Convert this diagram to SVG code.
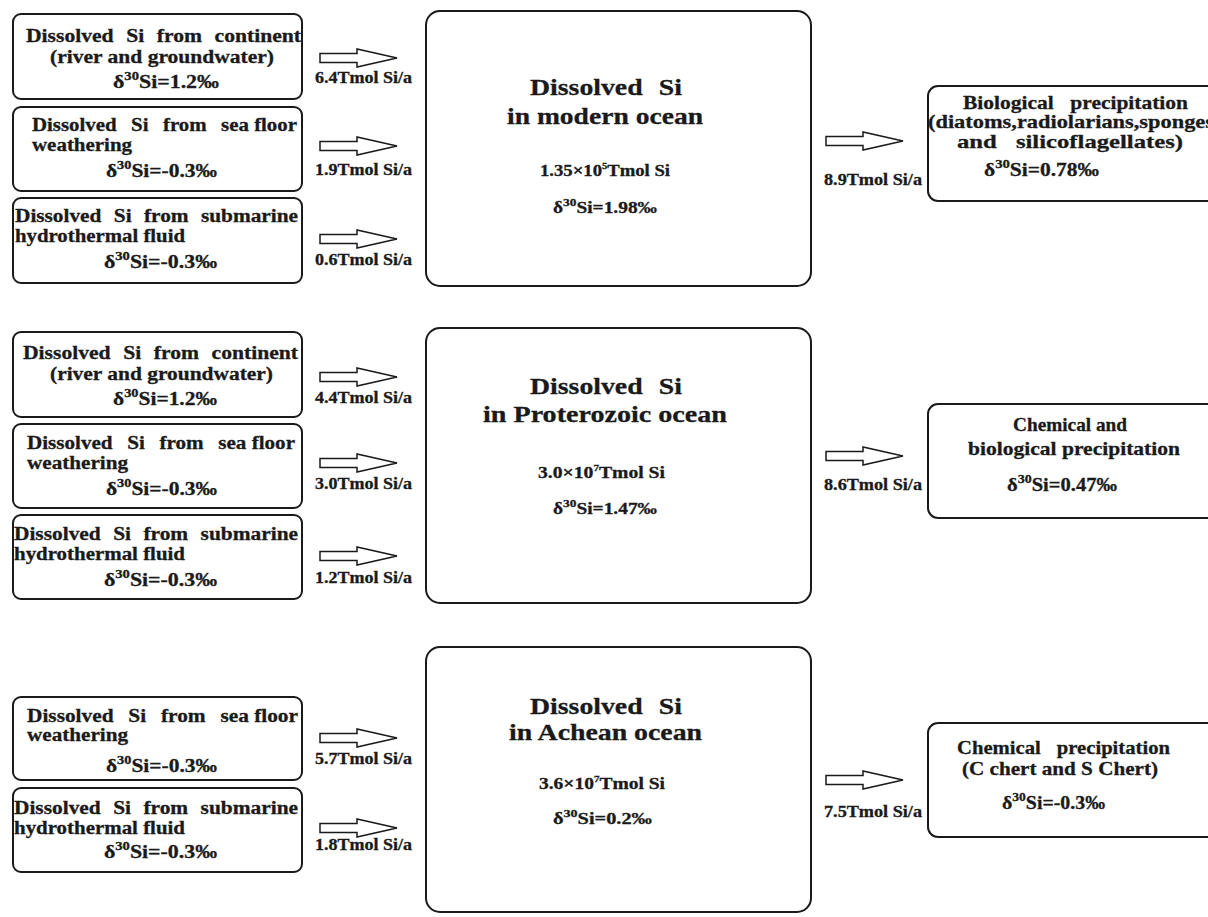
<svg xmlns="http://www.w3.org/2000/svg" xmlns:xlink="http://www.w3.org/1999/xlink" width="1208" height="917" viewBox="0 0 1208 917">
<style>
.box{fill:#fff;stroke:#1a1a1a;stroke-width:2}
.t{font-family:"Liberation Serif","Times New Roman",Times,serif;font-weight:bold;fill:#1a1a1a;stroke:#1a1a1a;stroke-width:0.3px;font-size:18px}
.c{font-size:24px}
.n{font-size:16px}
.l{font-size:16px}
.r{font-size:19px}
.arr{fill:#fff;stroke:#1a1a1a;stroke-width:1.5}
.j{word-spacing:6px}
</style>
<defs>
<path id="arrow" d="M0,-4.5 H37 V-9 L77,0 L37,9 V4.5 H0 Z"/>
</defs>
<rect width="1208" height="917" fill="#fff"/>

<!-- TOP SECTION -->
<g id="top-continent">
<rect class="box" x="13" y="14" width="289" height="85" rx="8"/>
<text class="t j" x="26" y="42" textLength="275" lengthAdjust="spacingAndGlyphs">Dissolved Si from continent</text>
<text class="t" x="50" y="63" textLength="224" lengthAdjust="spacingAndGlyphs">(river and groundwater)</text>
<text class="t" x="113" y="88" textLength="106" lengthAdjust="spacingAndGlyphs">δ<tspan font-size="12" dy="-8">30</tspan><tspan dy="8">Si=1.2‰</tspan></text>
</g>
<g id="top-seafloor">
<rect class="box" x="13" y="107" width="289" height="84" rx="8"/>
<text class="t" x="32" y="131" textLength="265" lengthAdjust="spacingAndGlyphs" style="word-spacing:8px">Dissolved Si from <tspan style="word-spacing:0">sea floor</tspan></text>
<text class="t" x="32" y="151" textLength="100" lengthAdjust="spacingAndGlyphs">weathering</text>
<text class="t" x="106" y="177" textLength="111" lengthAdjust="spacingAndGlyphs">δ<tspan font-size="12" dy="-8">30</tspan><tspan dy="8">Si=-0.3‰</tspan></text>
</g>
<g id="top-hydrothermal">
<rect class="box" x="13" y="198" width="289" height="85" rx="8"/>
<text class="t j" x="15" y="222" textLength="283" lengthAdjust="spacingAndGlyphs">Dissolved Si from submarine</text>
<text class="t" x="15" y="242" textLength="170" lengthAdjust="spacingAndGlyphs">hydrothermal fluid</text>
<text class="t" x="104" y="268" textLength="113" lengthAdjust="spacingAndGlyphs">δ<tspan font-size="12" dy="-8">30</tspan><tspan dy="8">Si=-0.3‰</tspan></text>
</g>
<g id="modern-ocean">
<rect class="box" x="426" y="11" width="385" height="275" rx="14"/>
<text class="t c" x="530" y="95" textLength="152" lengthAdjust="spacingAndGlyphs" style="word-spacing:8px">Dissolved Si</text>
<text class="t c" x="507" y="124" textLength="196" lengthAdjust="spacingAndGlyphs">in modern ocean</text>
<text class="t n" x="540" y="176" textLength="130" lengthAdjust="spacingAndGlyphs">1.35×10<tspan font-size="9" dy="-7">5</tspan><tspan dy="7">Tmol Si</tspan></text>
<text class="t n" x="553" y="213" textLength="104" lengthAdjust="spacingAndGlyphs">δ<tspan font-size="11" dy="-7">30</tspan><tspan dy="7">Si=1.98‰</tspan></text>
</g>
<g id="biological-precipitation">
<rect class="box" x="928" y="86" width="292" height="115" rx="10"/>
<text class="t r" x="963" y="109" textLength="225" lengthAdjust="spacingAndGlyphs" style="word-spacing:10px">Biological precipitation</text>
<text class="t r" x="928" y="128" textLength="286" lengthAdjust="spacingAndGlyphs">(diatoms,radiolarians,sponges</text>
<text class="t r" x="957" y="148" textLength="226" lengthAdjust="spacingAndGlyphs" style="word-spacing:10px">and silicoflagellates)</text>
<text class="t r" x="984" y="176" textLength="115" lengthAdjust="spacingAndGlyphs">δ<tspan font-size="13" dy="-8">30</tspan><tspan dy="8">Si=0.78‰</tspan></text>
</g>

<!-- MIDDLE SECTION -->
<g id="mid-continent">
<rect class="box" x="13" y="332" width="289" height="85" rx="8"/>
<text class="t j" x="23" y="359" textLength="275" lengthAdjust="spacingAndGlyphs">Dissolved Si from continent</text>
<text class="t" x="50" y="380" textLength="223" lengthAdjust="spacingAndGlyphs">(river and groundwater)</text>
<text class="t" x="113" y="405" textLength="104" lengthAdjust="spacingAndGlyphs">δ<tspan font-size="12" dy="-8">30</tspan><tspan dy="8">Si=1.2‰</tspan></text>
</g>
<g id="mid-seafloor">
<rect class="box" x="13" y="424" width="289" height="84" rx="8"/>
<text class="t" x="27" y="449" textLength="268" lengthAdjust="spacingAndGlyphs" style="word-spacing:8px">Dissolved Si from <tspan style="word-spacing:0">sea floor</tspan></text>
<text class="t" x="27" y="469" textLength="101" lengthAdjust="spacingAndGlyphs">weathering</text>
<text class="t" x="106" y="495" textLength="111" lengthAdjust="spacingAndGlyphs">δ<tspan font-size="12" dy="-8">30</tspan><tspan dy="8">Si=-0.3‰</tspan></text>
</g>
<g id="mid-hydrothermal">
<rect class="box" x="13" y="515" width="289" height="84" rx="8"/>
<text class="t j" x="14" y="540" textLength="284" lengthAdjust="spacingAndGlyphs">Dissolved Si from submarine</text>
<text class="t" x="14" y="560" textLength="171" lengthAdjust="spacingAndGlyphs">hydrothermal fluid</text>
<text class="t" x="104" y="586" textLength="113" lengthAdjust="spacingAndGlyphs">δ<tspan font-size="12" dy="-8">30</tspan><tspan dy="8">Si=-0.3‰</tspan></text>
</g>
<g id="proterozoic-ocean">
<rect class="box" x="426" y="328" width="385" height="275" rx="14"/>
<text class="t c" x="530" y="394" textLength="152" lengthAdjust="spacingAndGlyphs" style="word-spacing:8px">Dissolved Si</text>
<text class="t c" x="483" y="422" textLength="244" lengthAdjust="spacingAndGlyphs">in Proterozoic ocean</text>
<text class="t n" x="538" y="478" textLength="127" lengthAdjust="spacingAndGlyphs">3.0×10<tspan font-size="9" dy="-7">7</tspan><tspan dy="7">Tmol Si</tspan></text>
<text class="t n" x="553" y="514" textLength="104" lengthAdjust="spacingAndGlyphs">δ<tspan font-size="11" dy="-7">30</tspan><tspan dy="7">Si=1.47‰</tspan></text>
</g>
<g id="chem-bio-precipitation">
<rect class="box" x="928" y="404" width="292" height="114" rx="10"/>
<text class="t r" x="1013" y="431" textLength="114" lengthAdjust="spacingAndGlyphs">Chemical and</text>
<text class="t r" x="968" y="455" textLength="212" lengthAdjust="spacingAndGlyphs">biological precipitation</text>
<text class="t r" x="1007" y="491" textLength="110" lengthAdjust="spacingAndGlyphs">δ<tspan font-size="13" dy="-8">30</tspan><tspan dy="8">Si=0.47‰</tspan></text>
</g>

<!-- BOTTOM SECTION -->
<g id="bot-seafloor">
<rect class="box" x="13" y="697" width="289" height="83" rx="8"/>
<text class="t" x="27" y="722" textLength="271" lengthAdjust="spacingAndGlyphs" style="word-spacing:8px">Dissolved Si from <tspan style="word-spacing:0">sea floor</tspan></text>
<text class="t" x="27" y="741" textLength="101" lengthAdjust="spacingAndGlyphs">weathering</text>
<text class="t" x="106" y="772" textLength="111" lengthAdjust="spacingAndGlyphs">δ<tspan font-size="12" dy="-8">30</tspan><tspan dy="8">Si=-0.3‰</tspan></text>
</g>
<g id="bot-hydrothermal">
<rect class="box" x="13" y="788" width="289" height="84" rx="8"/>
<text class="t j" x="14" y="814" textLength="284" lengthAdjust="spacingAndGlyphs">Dissolved Si from submarine</text>
<text class="t" x="14" y="834" textLength="171" lengthAdjust="spacingAndGlyphs">hydrothermal fluid</text>
<text class="t" x="104" y="858" textLength="113" lengthAdjust="spacingAndGlyphs">δ<tspan font-size="12" dy="-8">30</tspan><tspan dy="8">Si=-0.3‰</tspan></text>
</g>
<g id="archean-ocean">
<rect class="box" x="426" y="647" width="385" height="265" rx="14"/>
<text class="t c" x="530" y="714" textLength="152" lengthAdjust="spacingAndGlyphs" style="word-spacing:8px">Dissolved Si</text>
<text class="t c" x="509" y="740" textLength="193" lengthAdjust="spacingAndGlyphs">in Achean ocean</text>
<text class="t n" x="539" y="789" textLength="126" lengthAdjust="spacingAndGlyphs">3.6×10<tspan font-size="9" dy="-7">7</tspan><tspan dy="7">Tmol Si</tspan></text>
<text class="t n" x="553" y="824" textLength="99" lengthAdjust="spacingAndGlyphs">δ<tspan font-size="11" dy="-7">30</tspan><tspan dy="7">Si=0.2‰</tspan></text>
</g>
<g id="chem-precipitation">
<rect class="box" x="928" y="723" width="292" height="114" rx="10"/>
<text class="t r" x="957" y="754" textLength="213" lengthAdjust="spacingAndGlyphs" style="word-spacing:10px">Chemical precipitation</text>
<text class="t r" x="962" y="775" textLength="196" lengthAdjust="spacingAndGlyphs">(C chert and S Chert)</text>
<text class="t r" x="1002" y="809" textLength="103" lengthAdjust="spacingAndGlyphs">δ<tspan font-size="13" dy="-8">30</tspan><tspan dy="8">Si=-0.3‰</tspan></text>
</g>

<!-- CONNECTORS -->
<g id="connectors">
<use href="#arrow" class="arr" x="320" y="58"/>
<use href="#arrow" class="arr" x="320" y="146"/>
<use href="#arrow" class="arr" x="320" y="239"/>
<use href="#arrow" class="arr" x="826" y="141"/>
<use href="#arrow" class="arr" x="320" y="377"/>
<use href="#arrow" class="arr" x="320" y="463"/>
<use href="#arrow" class="arr" x="320" y="556"/>
<use href="#arrow" class="arr" x="826" y="456"/>
<use href="#arrow" class="arr" x="320" y="738"/>
<use href="#arrow" class="arr" x="320" y="828"/>
<use href="#arrow" class="arr" x="826" y="780"/>
<text class="t l" x="315" y="83" textLength="97" lengthAdjust="spacingAndGlyphs">6.4Tmol Si/a</text>
<text class="t l" x="315" y="175" textLength="97" lengthAdjust="spacingAndGlyphs">1.9Tmol Si/a</text>
<text class="t l" x="315" y="265" textLength="97" lengthAdjust="spacingAndGlyphs">0.6Tmol Si/a</text>
<text class="t l" x="824" y="185" textLength="98" lengthAdjust="spacingAndGlyphs">8.9Tmol Si/a</text>
<text class="t l" x="315" y="403" textLength="97" lengthAdjust="spacingAndGlyphs">4.4Tmol Si/a</text>
<text class="t l" x="315" y="489" textLength="97" lengthAdjust="spacingAndGlyphs">3.0Tmol Si/a</text>
<text class="t l" x="315" y="583" textLength="97" lengthAdjust="spacingAndGlyphs">1.2Tmol Si/a</text>
<text class="t l" x="824" y="490" textLength="98" lengthAdjust="spacingAndGlyphs">8.6Tmol Si/a</text>
<text class="t l" x="315" y="764" textLength="97" lengthAdjust="spacingAndGlyphs">5.7Tmol Si/a</text>
<text class="t l" x="315" y="850" textLength="97" lengthAdjust="spacingAndGlyphs">1.8Tmol Si/a</text>
<text class="t l" x="824" y="817" textLength="98" lengthAdjust="spacingAndGlyphs">7.5Tmol Si/a</text>
</g>
</svg>
